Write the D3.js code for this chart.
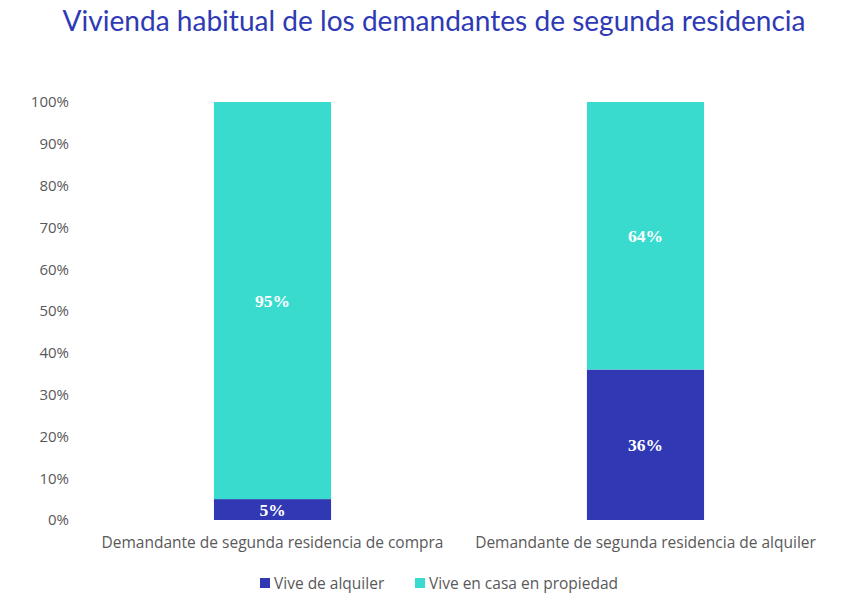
<!DOCTYPE html>
<html><head><meta charset="utf-8">
<script src="https://cdn.jsdelivr.net/npm/d3@7"></script>
<style>body{margin:0;background:#fff}</style>
</head><body>
<svg id="c" width="853" height="613"></svg>
<script>
const categories = ["Demandante de segunda residencia de compra", "Demandante de segunda residencia de alquiler"];
const seriesNames = ["Vive de alquiler", "Vive en casa en propiedad"];
const alquiler = [5, 36];
const propiedad = [95, 64];
const yTicks = [0,10,20,30,40,50,60,70,80,90,100];
const colors = ["#3038b4", "#3adbcf"];

const svg = d3.select("#c");
const m = {l:86, r:832, t:102, b:520};
const x = d3.scaleBand().domain(categories).range([m.l, m.r]).paddingInner(0.686).paddingOuter(0.343);
const y = d3.scaleLinear().domain([0,100]).range([m.b, m.t]);

svg.append("text").attr("x", 434).attr("y", 31).attr("text-anchor","middle")
  .attr("font-family","Lato, 'Open Sans', sans-serif").attr("font-size", 28).attr("fill","#2e3ab5")
  .attr("textLength", 743).attr("lengthAdjust","spacingAndGlyphs")
  .text("Vivienda habitual de los demandantes de segunda residencia");

const yAxis = svg.append("g").attr("transform",`translate(${m.l},0)`)
  .call(d3.axisLeft(y).tickValues(yTicks).tickFormat(d=>d+"%").tickSize(0).tickPadding(17));
yAxis.select(".domain").remove();
yAxis.selectAll("text").attr("font-family","'Open Sans', sans-serif").attr("font-size",15).attr("fill","#595959");

const data = categories.map((c,i)=>({cat:c, alquiler:alquiler[i], propiedad:propiedad[i]}));
const stack = d3.stack().keys(["alquiler","propiedad"])(data);
stack.forEach((layer,li)=>{
  svg.append("g").selectAll("rect").data(layer).join("rect")
    .attr("x", d=>x(d.data.cat)).attr("width", x.bandwidth())
    .attr("y", d=>y(d[1])).attr("height", d=>y(d[0])-y(d[1]))
    .attr("fill", colors[li]);
  svg.append("g").selectAll("text").data(layer).join("text")
    .attr("x", d=>x(d.data.cat)+x.bandwidth()/2)
    .attr("y", d=>(y(d[0])+y(d[1]))/2 + 6)
    .attr("text-anchor","middle")
    .attr("font-family","'Liberation Serif', 'DejaVu Serif', serif").attr("font-weight","bold")
    .attr("font-size",17.5).attr("fill","#fff")
    .text(d=>(d[1]-d[0])+"%");
});

const xAxis = svg.append("g").attr("transform",`translate(0,${m.b})`)
  .call(d3.axisBottom(x).tickSize(0).tickPadding(17));
xAxis.select(".domain").remove();
xAxis.selectAll("text").attr("font-family","'Open Sans', sans-serif").attr("font-size",15.5).attr("fill","#595959");

const leg = svg.append("g");
const legX = [260, 415];
seriesNames.forEach((n,i)=>{
  leg.append("rect").attr("x", legX[i]).attr("y", 578).attr("width",10).attr("height",10).attr("fill",colors[i]);
  leg.append("text").attr("x", legX[i]+14).attr("y", 589)
    .attr("font-family","'Open Sans', sans-serif").attr("font-size",15.5).attr("fill","#595959").text(n);
});
</script>
</body></html>
